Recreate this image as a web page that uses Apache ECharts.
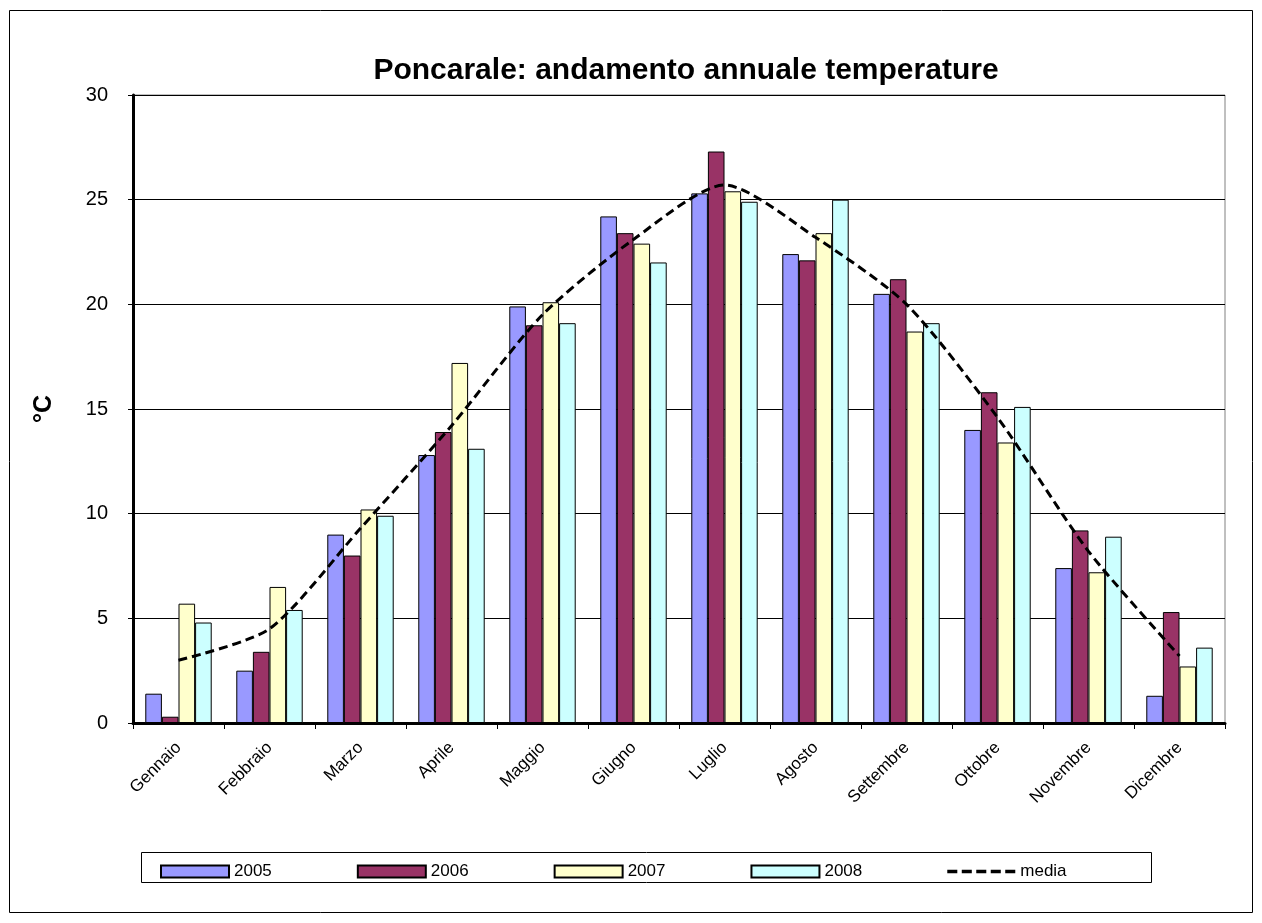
<!DOCTYPE html>
<html>
<head>
<meta charset="utf-8">
<script src="https://cdn.jsdelivr.net/npm/echarts@6/dist/echarts.min.js"></script>
<style>
html,body{margin:0;padding:0;background:#fff;}
#chart{width:1262px;height:923px;}
</style>
</head>
<body>
<div id="chart"></div>
<script>
const months = ['Gennaio','Febbraio','Marzo','Aprile','Maggio','Giugno','Luglio','Agosto','Settembre','Ottobre','Novembre','Dicembre'];
const y2005 = [1.4, 2.5, 9.0, 12.8, 19.9, 24.2, 25.3, 22.4, 20.5, 14.0, 7.4, 1.3];
const y2006 = [0.3, 3.4, 8.0, 13.9, 19.0, 23.4, 27.3, 22.1, 21.2, 15.8, 9.2, 5.3];
const y2007 = [5.7, 6.5, 10.2, 17.2, 20.1, 22.9, 25.4, 23.4, 18.7, 13.4, 7.2, 2.7];
const y2008 = [4.8, 5.4, 9.9, 13.1, 19.1, 22.0, 24.9, 25.0, 19.1, 15.1, 8.9, 3.6];
const media = [3.0, 4.5, 9.3, 14.2, 19.5, 23.1, 25.7, 23.2, 20.0, 14.6, 8.2, 3.2];
const seriesNames = ['2005','2006','2007','2008','media'];
const titleText = 'Poncarale: andamento annuale temperature';
const yName = '°C';

const FONT = "'Liberation Sans', Arial, sans-serif";
const colors = ['#9999FF','#993366','#FFFFCC','#CCFFFF'];
const barData = [y2005, y2006, y2007, y2008];

const chart = echarts.init(document.getElementById('chart'), null, {renderer:'canvas'});

const barSeries = barData.map((d, i) => ({
  name: seriesNames[i],
  type: 'bar',
  data: d,
  barGap: '0%',
  barCategoryGap: '27%',
  itemStyle: { color: colors[i], borderColor: '#000', borderWidth: 1 },
  emphasis: { disabled: true },
  z: 2
}));

const dashIcon = 'path://M0,0h9v3h-9z M13,0h9v3h-9z M26,0h9v3h-9z M39,0h9v3h-9z M52,0h9v3h-9z';

const legendData = seriesNames.slice(0, 4).map(n => ({ name: n, icon: 'rect' }))
  .concat([{ name: seriesNames[4], icon: dashIcon, itemStyle: { color: '#000' } }]);

const option = {
  animation: false,
  textStyle: { fontFamily: FONT },
  graphic: [
    { type: 'rect', shape: { x: 9.5, y: 10.5, width: 1243, height: 902 },
      style: { fill: 'none', stroke: '#000', lineWidth: 1 }, silent: true, z: -1 },
    { type: 'rect', shape: { x: 141.5, y: 852.5, width: 1010, height: 30 },
      style: { fill: 'none', stroke: '#000', lineWidth: 1 }, silent: true, z: -1 },
    { type: 'text', x: 686, y: 71,
      style: { text: titleText, fontFamily: FONT, fontSize: 30, fontWeight: 'bold',
               fill: '#000', textAlign: 'center', textVerticalAlign: 'middle' } }
  ],
  legend: {
    left: 155, top: 858,
    itemWidth: 68, itemHeight: 12, itemGap: 85,
    textStyle: { fontFamily: FONT, fontSize: 17, color: '#000' },
    data: legendData
  },
  grid: {
    left: 133, right: 37, top: 95, bottom: 200,
    show: true, borderColor: '#808080', borderWidth: 1
  },
  xAxis: {
    type: 'category',
    data: months,
    boundaryGap: true,
    axisLine: { show: true, lineStyle: { color: '#000', width: 3 } },
    axisTick: { show: true, length: 6, lineStyle: { color: '#000', width: 1 } },
    axisLabel: { rotate: 45, fontSize: 17, color: '#000', margin: 22, fontFamily: FONT, interval: 0 },
    splitLine: { show: false }
  },
  yAxis: {
    type: 'value',
    min: 0, max: 30, interval: 5,
    name: yName,
    nameLocation: 'middle',
    nameRotate: 90,
    nameGap: 76,
    nameTextStyle: { fontSize: 25, fontWeight: 'bold', color: '#000', fontFamily: FONT },
    axisLine: { show: true, lineStyle: { color: '#000', width: 3 } },
    axisTick: { show: true, length: 5, lineStyle: { color: '#000', width: 1 } },
    axisLabel: { fontSize: 20, color: '#000', margin: 25, fontFamily: FONT },
    splitLine: { show: true, lineStyle: { color: '#000', width: 1 } }
  },
  series: barSeries.concat([{
    name: seriesNames[4],
    type: 'line',
    data: media,
    smooth: 0.25,
    symbol: 'none',
    showSymbol: false,
    lineStyle: { color: '#000', width: 3, type: [9, 5] },
    itemStyle: { color: '#000' },
    emphasis: { disabled: true },
    z: 5
  }])
};
chart.setOption(option);
</script>
</body>
</html>
